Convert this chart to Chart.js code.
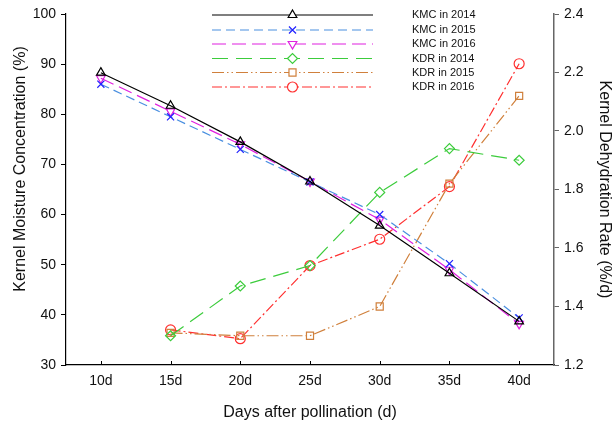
<!DOCTYPE html>
<html>
<head>
<meta charset="utf-8">
<script src="https://cdn.jsdelivr.net/npm/chart.js@4.4.0/dist/chart.umd.min.js"></script>
<style>
  html, body { margin: 0; padding: 0; background: #fff; }
  #wrap { width: 615px; height: 422px; }
</style>
</head>
<body>
<div id="wrap"><canvas id="chart" width="615" height="422"></canvas></div>
<script>
// categories
const days = ['10d', '15d', '20d', '25d', '30d', '35d', '40d'];

// kernel moisture concentration (%), left axis
const kmc2014 = [88.3, 81.7, 74.5, 66.6, 57.8, 48.3, 38.7];
const kmc2015 = [86.0, 79.5, 73.0, 66.5, 60.0, 50.2, 39.4];
const kmc2016 = [87.2, 80.6, 74.0, 66.6, 59.0, 49.0, 38.2];

// kernel dehydration rate (%/d), right axis
const kdr2014 = [null, 1.30, 1.47, 1.54, 1.79, 1.94, 1.90];
const kdr2015 = [null, 1.31, 1.30, 1.30, 1.40, 1.82, 2.12];
const kdr2016 = [null, 1.32, 1.29, 1.54, 1.63, 1.81, 2.23];

const leftTicks = [30, 40, 50, 60, 70, 80, 90, 100];
const rightTicks = [1.2, 1.4, 1.6, 1.8, 2.0, 2.2, 2.4];

const leftTitle = 'Kernel Moisture Concentration (%)';

const FONT = "'Liberation Sans', Arial, sans-serif";

function series(label, data, axis, color, markColor, style, dash, rot) {
    return {
        label: label,
        data: data,
        yAxisID: axis,
        borderColor: color,
        borderWidth: 1.2,
        borderDash: dash,
        pointStyle: style,
        pointRotation: rot || 0,
        pointRadius: 5,
        pointBorderColor: markColor,
        pointBackgroundColor: 'rgba(255,255,255,0)',
        pointBorderWidth: 1.2,
        fill: false,
        tension: 0,
        spanGaps: false
    };
}

// legend with long sample lines, like the original
const lineLegend = {
    id: 'lineLegend',
    afterDatasetsDraw(chart) {
        const ctx = chart.ctx;
        const rows = [15, 30, 44, 58.5, 72.5, 87];
        chart.data.datasets.forEach((ds, i) => {
            const y = rows[i];
            ctx.save();
            ctx.strokeStyle = ds.borderColor;
            ctx.lineWidth = ds.borderWidth;
            ctx.setLineDash(ds.borderDash || []);
            ctx.beginPath();
            ctx.moveTo(212, y);
            ctx.lineTo(373, y);
            ctx.stroke();
            ctx.setLineDash([]);
            ctx.strokeStyle = ds.pointBorderColor;
            ctx.fillStyle = '#fff';
            ctx.lineWidth = ds.pointBorderWidth;
            Chart.helpers.drawPoint(ctx, {
                pointStyle: ds.pointStyle,
                rotation: ds.pointRotation,
                radius: ds.pointRadius,
                borderWidth: ds.pointBorderWidth
            }, 292.5, y);
            ctx.fillStyle = '#111';
            ctx.font = '11px ' + FONT;
            ctx.textBaseline = 'middle';
            ctx.textAlign = 'left';
            ctx.fillText(ds.label, 412, y);
            ctx.restore();
        });

        // small inward tick marks on the x axis
        const xs = chart.scales.x;
        ctx.save();
        ctx.strokeStyle = '#000';
        ctx.lineWidth = 1;
        days.forEach((d, i) => {
            const px = Math.round(xs.getPixelForValue(i)) + 0.5;
            ctx.beginPath();
            ctx.moveTo(px, xs.top);
            ctx.lineTo(px, xs.top - 4);
            ctx.stroke();
        });
        ctx.restore();

        // left axis title sits a bit above the middle in the original
        ctx.save();
        ctx.translate(21, 169);
        ctx.rotate(-Math.PI / 2);
        ctx.fillStyle = '#111';
        ctx.font = '16px ' + FONT;
        ctx.textAlign = 'center';
        ctx.textBaseline = 'middle';
        ctx.fillText(leftTitle, 0, 0);
        ctx.restore();
    }
};

new Chart(document.getElementById('chart'), {
    type: 'line',
    data: {
        labels: days,
        datasets: [
            series('KMC in 2014', kmc2014, 'y', '#000000', '#000000', 'triangle', [], 0),
            series('KMC in 2015', kmc2015, 'y', '#4a8fe0', '#2222ff', 'crossRot', [9, 5], 0),
            series('KMC in 2016', kmc2016, 'y', '#e020e0', '#e020e0', 'triangle', [14, 6], 180),
            series('KDR in 2014', kdr2014, 'y1', '#3ccc3c', '#3ccc3c', 'rectRot', [16, 8], 0),
            series('KDR in 2015', kdr2015, 'y1', '#d0803c', '#d0803c', 'rect', [12, 3, 1.5, 3, 1.5, 3], 0),
            series('KDR in 2016', kdr2016, 'y1', '#ff3030', '#ff3030', 'circle', [10, 3, 2, 3], 0)
        ]
    },
    options: {
        responsive: false,
        animation: false,
        layout: { padding: { top: 14, left: 0, right: 0, bottom: 0 } },
        plugins: {
            legend: { display: false },
            tooltip: { enabled: false }
        },
        scales: {
            x: {
                type: 'category',
                offset: true,
                grid: { display: false, drawTicks: false },
                border: { color: '#000', width: 1.2 },
                ticks: { color: '#111', font: { family: FONT, size: 14 }, padding: 8 },
                title: {
                    display: true,
                    text: 'Days after pollination (d)',
                    color: '#111',
                    font: { family: FONT, size: 16 },
                    padding: { top: 0, bottom: 0 }
                },
                afterFit(scale) { scale.height = 57; }
            },
            y: {
                position: 'left',
                min: 30,
                max: 100,
                afterBuildTicks(scale) { scale.ticks = leftTicks.map(v => ({ value: v })); },
                grid: { drawOnChartArea: false, tickLength: 5, color: '#000' },
                border: { color: '#000', width: 1.2 },
                ticks: { color: '#111', font: { family: FONT, size: 14 }, padding: 5 },
                title: { display: false },
                afterFit(scale) { scale.width = 66; }
            },
            y1: {
                position: 'right',
                min: 1.2,
                max: 2.4,
                afterBuildTicks(scale) { scale.ticks = rightTicks.map(v => ({ value: v })); },
                grid: { drawOnChartArea: false, tickLength: 5, color: '#666' },
                border: { color: '#666', width: 1.5 },
                ticks: {
                    color: '#111',
                    font: { family: FONT, size: 14 },
                    padding: 5,
                    callback: v => Number(v).toFixed(1)
                },
                title: {
                    display: true,
                    text: 'Kernel Dehydration Rate (%/d)',
                    color: '#111',
                    font: { family: FONT, size: 16 },
                    padding: { top: 1, bottom: 0 }
                },
                afterFit(scale) { scale.width = 61; }
            }
        }
    },
    plugins: [lineLegend]
});
</script>
</body>
</html>
